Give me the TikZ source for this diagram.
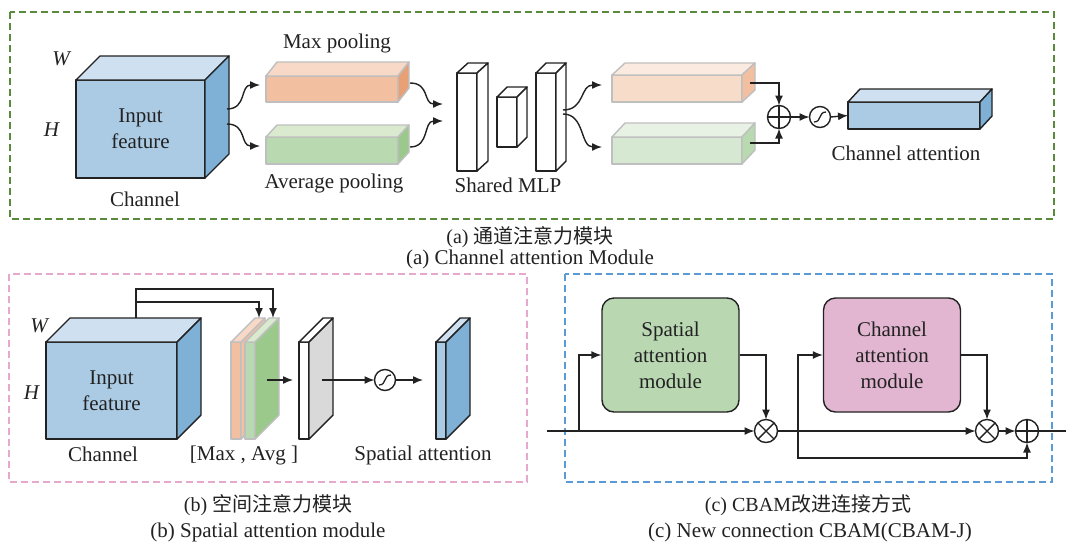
\documentclass[tikz,border=0pt]{standalone}
\usepackage{fontspec}
\setmainfont{Liberation Serif}
\newfontfamily\cjk{Noto Sans CJK SC}
\usetikzlibrary{arrows.meta,calc}
\definecolor{ink}{HTML}{222222}
\definecolor{bfront}{HTML}{ABCBE4}
\definecolor{btop}{HTML}{CFE1F0}
\definecolor{bside}{HTML}{7FB0D6}
\definecolor{ofront}{HTML}{F2BFA0}
\definecolor{otop}{HTML}{F8D9C8}
\definecolor{oside}{HTML}{E8A077}
\definecolor{gfront}{HTML}{B9D9B0}
\definecolor{gtop}{HTML}{D9EACF}
\definecolor{gside}{HTML}{9BC98B}
\definecolor{lofront}{HTML}{F8DCCA}
\definecolor{lotop}{HTML}{FBEAE0}
\definecolor{loside}{HTML}{F2BFA0}
\definecolor{lgfront}{HTML}{D6E8D1}
\definecolor{lgtop}{HTML}{E8F2E4}
\definecolor{lgside}{HTML}{B9D9B0}
\definecolor{edgegray}{HTML}{BFBFBF}
\definecolor{slabgray}{HTML}{D9D9D9}
\definecolor{frameA}{HTML}{5A8A3C}
\definecolor{frameB}{HTML}{E6A8CC}
\definecolor{frameC}{HTML}{5B9BD5}
\definecolor{spfill}{HTML}{B9D8B2}
\definecolor{chfill}{HTML}{E2B5D0}
\tikzset{
  face/.style={rectangle, inner sep=0pt, outer sep=0pt, line width=1.4pt, line join=round, align=center},
  pface/.style={line width=1.4pt, line join=round},
  conn/.style={draw=ink, line width=1.4pt},
  arr/.style={conn, -{Latex[length=10pt,width=8pt]}},
  op/.style={circle, draw=ink, line width=1.4pt, minimum size=23pt, inner sep=0pt, outer sep=0pt},
  frame/.style={line width=1.8pt, dash pattern=on 7pt off 4pt},
  modbox/.style={rectangle, rounded corners=12pt, draw=ink, line width=1.4pt, minimum width=137pt, minimum height=114pt, align=center, inner sep=0pt},
  lbl/.style={text=ink, inner sep=0pt},
  cjklbl/.style={text=ink, inner sep=0pt, font=\fontsize{20}{22}\selectfont}
}
\newcommand\prism[6]{%
  \filldraw[fill=#4,draw=#6,pface] (#1.north west) -- ([shift={(#2,-#3)}]#1.north west) -- ([shift={(#2,-#3)}]#1.north east) -- (#1.north east) -- cycle;
  \filldraw[fill=#5,draw=#6,pface] (#1.north east) -- ([shift={(#2,-#3)}]#1.north east) -- ([shift={(#2,-#3)}]#1.south east) -- (#1.south east) -- cycle;
}
\newcommand\oplusmark[1]{\draw[ink,line width=1.4pt] (#1.north) -- (#1.south) (#1.west) -- (#1.east);}
\newcommand\otimesmark[1]{\draw[ink,line width=1.4pt] (#1.north west) -- (#1.south east) (#1.north east) -- (#1.south west);}
\newcommand\sigmark[1]{\draw[ink,line width=1.3pt] ($(#1)+(-6,5)$) .. controls ($(#1)+(2,5)$) and ($(#1)+(-2,-5)$) .. ($(#1)+(6,-5)$);}
\begin{document}
\begin{tikzpicture}[x=1pt,y=-1pt,font=\fontsize{21}{26}\selectfont]
\useasboundingbox[fill=white] (0,0) rectangle (1066,542);

% ---------------- (a) channel attention ----------------
\draw[frame, draw=frameA] (10,12) rectangle (1054,219);

\node[face, fill=bfront, draw=ink, minimum width=129pt, minimum height=98pt, text=ink] (cubeA) at (140.5,129) {Input\\feature};
\prism{cubeA}{24}{24}{btop}{bside}{ink}
\node[lbl] (wA) at (62,59) {\textit{W}};
\node[lbl] (hA) at (52,130) {\textit{H}};
\node[lbl] (chanA) at (145,199) {Channel};

\node[face, fill=ofront, draw=edgegray, minimum width=132pt, minimum height=26pt] (maxA) at (332,89) {};
\prism{maxA}{11}{14}{otop}{oside}{edgegray}
\node[face, fill=gfront, draw=edgegray, minimum width=132pt, minimum height=27pt] (avgA) at (332,150.5) {};
\prism{avgA}{11}{12}{gtop}{gside}{edgegray}
\node[lbl] (maxlbl) at (337,43) {Max pooling};
\node[lbl] (avglbl) at (334,183) {Average pooling};

\node[face, fill=white, draw=ink, minimum width=20pt, minimum height=98pt] (mlp1) at (467,122) {};
\prism{mlp1}{11}{10}{white}{white}{ink}
\node[face, fill=white, draw=ink, minimum width=20pt, minimum height=50pt] (mlp2) at (507,122) {};
\prism{mlp2}{10}{10}{white}{white}{ink}
\node[face, fill=white, draw=ink, minimum width=20pt, minimum height=98pt] (mlp3) at (546,122) {};
\prism{mlp3}{10}{10}{white}{white}{ink}
\node[lbl] (mlplbl) at (508,185) {Shared MLP};

\node[face, fill=lofront, draw=edgegray, minimum width=130pt, minimum height=27pt] (maxB) at (677,88.5) {};
\prism{maxB}{13}{12}{lotop}{loside}{edgegray}
\node[face, fill=lgfront, draw=edgegray, minimum width=130pt, minimum height=27pt] (avgB) at (677,150.5) {};
\prism{avgB}{13}{14}{lgtop}{lgside}{edgegray}

\node[op] (plusA) at (779,117) {};
\oplusmark{plusA}
\node[op, minimum size=21pt] (sigA) at (820,117) {};
\sigmark{sigA}
\node[face, fill=bfront, draw=ink, minimum width=132pt, minimum height=27pt] (chA) at (914,115.5) {};
\prism{chA}{12}{13}{btop}{bside}{ink}
\node[lbl] (chAlbl) at (906,153) {Channel attention};

\coordinate (s1) at (227,109); \coordinate (e1) at (260,85);
\coordinate (s2) at (227,124); \coordinate (e2) at (260,146);
\coordinate (s3) at (410,83);  \coordinate (e3) at (443,104);
\coordinate (s4) at (410,147); \coordinate (e4) at (443,121);
\coordinate (s5) at (563,110); \coordinate (e5) at (602,85);
\coordinate (s6) at (563,114); \coordinate (e6) at (602,147);
\draw[arr] (s1) .. controls +(20,0) and +(-20,0) .. (e1);
\draw[arr] (s2) .. controls +(20,0) and +(-20,0) .. (e2);
\draw[arr] (s3) .. controls +(20,0) and +(-20,0) .. (e3);
\draw[arr] (s4) .. controls +(20,0) and +(-20,0) .. (e4);
\draw[arr] (s5) .. controls +(22,0) and +(-22,0) .. (e5);
\draw[arr] (s6) .. controls +(22,0) and +(-22,0) .. (e6);
\coordinate (o1) at (750,83); \coordinate (o2) at (750,143);
\draw[arr] (o1) -| (plusA.north);
\draw[arr] (o2) -| (plusA.south);
\draw[arr] (plusA.east) -- (sigA.west);
\draw[arr] (sigA.east) -- (chA.west);

\node[cjklbl] (capA1) at (530,237) {(a) {\cjk 通道注意力模块}};
\node[lbl] (capA2) at (530,259) {(a) Channel attention Module};

% ---------------- (b) spatial attention ----------------
\draw[frame, draw=frameB] (9,274) rectangle (527,482);

\node[face, fill=bfront, draw=ink, minimum width=131pt, minimum height=97pt, text=ink] (cubeB) at (111.5,390.5) {Input\\feature};
\prism{cubeB}{24}{24}{btop}{bside}{ink}
\node[lbl] (wB) at (40,326) {\textit{W}};
\node[lbl] (hB) at (32,393) {\textit{H}};
\node[lbl] (chanB) at (103,454) {Channel};

\node[face, fill=ofront, draw=edgegray, minimum width=10pt, minimum height=97pt] (oslab) at (236,390.5) {};
\prism{oslab}{24}{24}{otop}{ofront}{edgegray}
\node[face, fill=gfront, draw=edgegray, minimum width=10pt, minimum height=97pt] (gslab) at (250,390.5) {};
\prism{gslab}{24}{24}{gtop}{gside}{edgegray}
\node[lbl] (malbl) at (244,455) {[Max , Avg ]};

\node[face, fill=white, draw=ink, minimum width=10pt, minimum height=97pt] (grslab) at (304,390.5) {};
\prism{grslab}{24}{24}{white}{slabgray}{ink}
\node[op, minimum size=21pt] (sigB) at (385,380) {};
\sigmark{sigB}
\node[face, fill=bfront, draw=ink, minimum width=10pt, minimum height=97pt] (bslab) at (441,390.5) {};
\prism{bslab}{24}{24}{btop}{bside}{ink}
\node[lbl] (salbl) at (423,455) {Spatial attention};

\coordinate (ct) at (136,318);
\coordinate (k1) at (136,289);
\coordinate (k2) at (136,302);
\coordinate (ot) at (259,318);
\coordinate (gt) at (273,318);
\draw[arr] (ct) -- (k1) -| (gt);
\draw[arr] (k2) -| (ot);
\coordinate (g1) at (267,380); \coordinate (g2) at (293,380);
\coordinate (g3) at (322,380); \coordinate (g4) at (423,380);
\draw[arr] (g1) -- (g2);
\draw[arr] (g3) -- (sigB.west);
\draw[arr] (sigB.east) -- (g4);

\node[cjklbl] (capB1) at (268,505) {(b) {\cjk 空间注意力模块}};
\node[lbl] (capB2) at (268,532) {(b) Spatial attention module};

% ---------------- (c) CBAM-J ----------------
\draw[frame, draw=frameC] (565,274) rectangle (1052,482);

\node[modbox, fill=spfill, text=ink] (spat) at (670.5,355) {Spatial\\attention\\module};
\node[modbox, fill=chfill, text=ink] (chan) at (892,355) {Channel\\attention\\module};
\node[op] (ot1) at (766,431) {};
\otimesmark{ot1}
\node[op] (ot2) at (987,431) {};
\otimesmark{ot2}
\node[op] (op1) at (1027,431) {};
\oplusmark{op1}

\coordinate (in) at (547,431);
\coordinate (b1) at (579,431);
\coordinate (b2) at (798,431);
\coordinate (b3) at (798,458);
\coordinate (out) at (1066,431);
\draw[arr] (in) -- (ot1.west);
\draw[arr] (b1) |- (spat.west);
\draw[arr] (spat.east) -| (ot1.north);
\draw[arr] (ot1.east) -- (ot2.west);
\draw[arr] (b2) |- (chan.west);
\draw[arr] (b2) -- (b3) -| (op1.south);
\draw[arr] (chan.east) -| (ot2.north);
\draw[arr] (ot2.east) -- (op1.west);
\draw[conn] (op1.east) -- (out);

\node[cjklbl] (capC1) at (808,505) {(c) CBAM{\cjk 改进连接方式}};
\node[lbl] (capC2) at (810,532) {(c) New connection CBAM(CBAM-J)};
\end{tikzpicture}
\end{document}
